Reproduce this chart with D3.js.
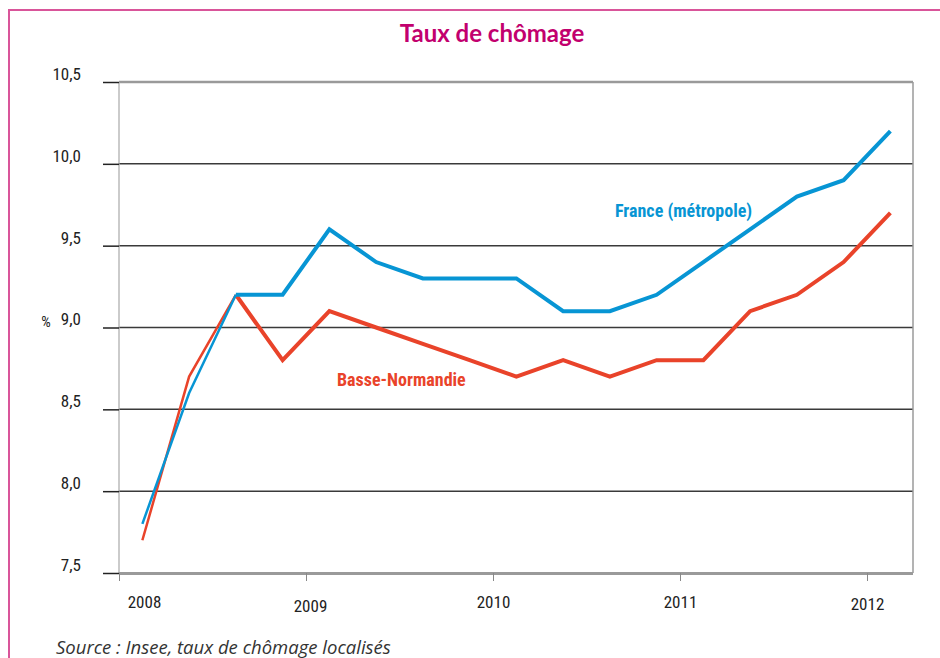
<!DOCTYPE html>
<html>
<head>
<meta charset="utf-8">
<script src="https://cdn.jsdelivr.net/npm/d3@7"></script>
<style>
  body { margin: 0; background: #fff; }
  svg { display: block; }
</style>
</head>
<body>
<main></main>
<script>
// quarterly values, 2008 Q1 -> 2012 Q1
const quarters = ['2008T1','2008T2','2008T3','2008T4','2009T1','2009T2','2009T3','2009T4',
  '2010T1','2010T2','2010T3','2010T4','2011T1','2011T2','2011T3','2011T4','2012T1']
const france = [7.8, 8.6, 9.2, 9.2, 9.6, 9.4, 9.3, 9.3, 9.3, 9.1, 9.1, 9.2, 9.4, 9.6, 9.8, 9.9, 10.2]
const basseNormandie = [7.7, 8.7, 9.2, 8.8, 9.1, 9.0, 8.9, 8.8, 8.7, 8.8, 8.7, 8.8, 8.8, 9.1, 9.2, 9.4, 9.7]
const yearTicks = [2008, 2009, 2010, 2011, 2012]
const yTicks = [7.5, 8.0, 8.5, 9.0, 9.5, 10.0, 10.5]

const size = { width: 940, height: 658 }
const plot = { left: 119, right: 913, top: 82, bottom: 573 }
const blue = '#0795d4'
const red = '#e9432a'
const narrow = '"Liberation Sans Narrow", "Roboto Condensed", "DejaVu Sans Condensed", sans-serif'

const svg = d3.select('main')
  .append('svg')
  .attr('width', size.width)
  .attr('height', size.height)

// pink frame (top + left)
svg.append('path')
  .attr('d', `M9,${size.height} V10 H${size.width}`)
  .attr('fill', 'none')
  .attr('stroke', '#d9559a')
  .attr('stroke-width', 2)

svg.append('text')
  .attr('x', 492).attr('y', 42)
  .attr('text-anchor', 'middle')
  .style('font-family', 'Lato, "Open Sans", sans-serif')
  .style('font-weight', 700)
  .style('font-size', '24px')
  .attr('fill', '#c2006e')
  .text('Taux de chômage')

const xScale = d3.scaleLinear().domain([2008, 2012.25]).range([plot.left, plot.left + 187 * 4.25])
const yScale = d3.scaleLinear().domain([7.5, 10.5]).range([plot.bottom, plot.top])
const xOf = i => xScale(2008.125 + i * 0.25)

// horizontal grid
svg.append('g')
  .selectAll('line')
  .data(yTicks.filter(d => d > 7.5 && d < 10.5))
  .join('line')
  .attr('x1', plot.left).attr('x2', plot.right)
  .attr('y1', d => yScale(d)).attr('y2', d => yScale(d))
  .attr('stroke', '#3a3a3a')
  .attr('stroke-width', 1.5)

// frame: top, right, left
svg.append('line')
  .attr('x1', plot.left).attr('x2', plot.right)
  .attr('y1', yScale(10.5)).attr('y2', yScale(10.5))
  .attr('stroke', '#9a9a9a').attr('stroke-width', 2.5)
svg.append('line')
  .attr('x1', plot.right).attr('x2', plot.right)
  .attr('y1', yScale(10.5)).attr('y2', yScale(7.5))
  .attr('stroke', '#9a9a9a').attr('stroke-width', 1.5)
svg.append('line')
  .attr('x1', plot.left).attr('x2', plot.left)
  .attr('y1', yScale(10.5)).attr('y2', yScale(7.5))
  .attr('stroke', '#a8a8a8').attr('stroke-width', 1.2)

// y axis
const yAxis = svg.append('g')
  .attr('transform', `translate(${plot.left},0)`)
  .call(d3.axisLeft(yScale).tickValues(yTicks).tickFormat(d => d3.format('.1f')(d).replace('.', ',')).tickSize(16).tickPadding(22))
yAxis.select('.domain').remove()
yAxis.selectAll('line').attr('stroke', '#222').attr('stroke-width', 1.5)
yAxis.selectAll('text')
  .style('font-family', narrow)
  .style('font-size', '17px')
  .attr('fill', '#222')
  .attr('dy', '-0.15em')

// x axis
const xAxis = svg.append('g')
  .attr('transform', `translate(0,${plot.bottom})`)
  .call(d3.axisBottom(xScale).tickValues(yearTicks).tickFormat(d3.format('d')).tickSize(8).tickPadding(14))
xAxis.select('.domain')
  .attr('d', `M${plot.left},0.5H${plot.right}`)
  .attr('stroke', '#9a9a9a').attr('stroke-width', 3)
xAxis.selectAll('line').attr('stroke', '#888')
xAxis.selectAll('text')
  .style('font-family', narrow)
  .style('font-size', '17px')
  .attr('fill', '#222')
  .attr('dx', d => d === 2008 ? 25 : (d === 2009 ? 4 : 0))
  .attr('dy', d => d === 2009 ? '1.0em' : (d === 2012 ? '0.9em' : '0.75em'))

svg.append('text')
  .attr('x', 46).attr('y', 327)
  .attr('text-anchor', 'middle')
  .style('font-family', narrow)
  .style('font-size', '15px')
  .attr('fill', '#222')
  .text('%')

// lines: thinner first segments, thicker after
const line = d3.line().x(d => xOf(d[0])).y(d => yScale(d[1]))
const drawSeries = (values, color) => {
  const pts = values.map((v, i) => [i, v])
  svg.append('path')
    .attr('d', line(pts.slice(0, 3)))
    .attr('fill', 'none').attr('stroke', color).attr('stroke-width', 2.5)
  svg.append('path')
    .attr('d', line(pts.slice(2)))
    .attr('fill', 'none').attr('stroke', color).attr('stroke-width', 4)
    .attr('stroke-linejoin', 'miter')
}
drawSeries(basseNormandie, red)
drawSeries(france, blue)

svg.append('text')
  .attr('x', 615).attr('y', 217)
  .style('font-family', narrow)
  .style('font-weight', 700)
  .style('font-size', '18px')
  .attr('fill', blue)
  .text('France (métropole)')

svg.append('text')
  .attr('x', 337).attr('y', 386)
  .style('font-family', narrow)
  .style('font-weight', 700)
  .style('font-size', '18px')
  .attr('fill', red)
  .text('Basse-Normandie')

svg.append('text')
  .attr('x', 56).attr('y', 654)
  .style('font-family', '"Open Sans", Lato, sans-serif')
  .style('font-style', 'italic')
  .style('font-size', '18.5px')
  .attr('fill', '#333')
  .text('Source : Insee, taux de chômage localisés')
</script>
</body>
</html>
